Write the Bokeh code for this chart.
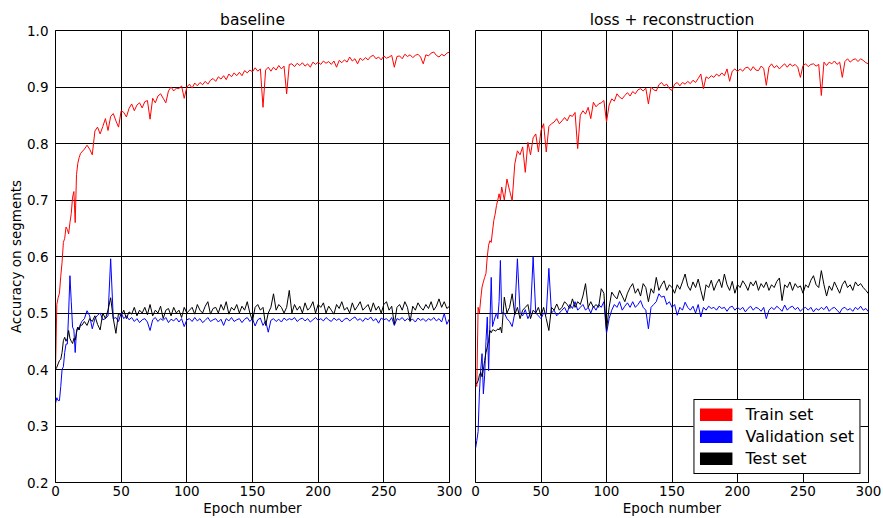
from bokeh.plotting import figure
from bokeh.layouts import row
from bokeh.models import (FixedTicker, NumeralTickFormatter, Legend, LegendItem,
                          Range1d)
from bokeh.embed import file_html
from bokeh.resources import INLINE

# ---------------- data ----------------
epochs = list(range(0, 21)) + list(range(22, 301, 2))

x_ticks = [0, 50, 100, 150, 200, 250, 300]
y_ticks = [0.2, 0.3, 0.4, 0.5, 0.6, 0.7, 0.8, 0.9, 1.0]
panel_titles = ["baseline", "loss + reconstruction"]
series_names = ["Train set", "Validation set", "Test set"]

baseline_train = [
    0.400, 0.515, 0.527, 0.535, 0.565, 0.590, 0.625, 0.632, 0.652, 0.648, 0.640,
    0.660, 0.676, 0.705, 0.715, 0.660, 0.745, 0.765, 0.775, 0.782, 0.785,
    0.790, 0.797, 0.790, 0.780, 0.822, 0.829, 0.817, 0.830, 0.844, 0.823,
    0.848, 0.853, 0.840, 0.829, 0.858, 0.855, 0.847, 0.862, 0.870, 0.858,
    0.868, 0.872, 0.863, 0.874, 0.876, 0.843, 0.880, 0.872, 0.884, 0.888,
    0.880, 0.872, 0.893, 0.900, 0.893, 0.898, 0.897, 0.902, 0.880, 0.900,
    0.905, 0.898, 0.907, 0.902, 0.908, 0.904, 0.910, 0.905, 0.912, 0.915,
    0.910, 0.918, 0.914, 0.920, 0.913, 0.923, 0.918, 0.925, 0.920, 0.926,
    0.920, 0.929, 0.925, 0.930, 0.927, 0.934, 0.928, 0.932, 0.864, 0.930,
    0.935, 0.928, 0.935, 0.930, 0.938, 0.932, 0.937, 0.888, 0.940, 0.941,
    0.936, 0.942, 0.938, 0.943, 0.937, 0.941, 0.935, 0.944, 0.940, 0.944,
    0.940, 0.946, 0.942, 0.945, 0.940, 0.946, 0.935, 0.947, 0.943, 0.948,
    0.944, 0.953, 0.946, 0.950, 0.941, 0.951, 0.947, 0.952, 0.948, 0.954,
    0.956, 0.950, 0.953, 0.948, 0.955, 0.951, 0.953, 0.956, 0.935, 0.954,
    0.955, 0.950, 0.958, 0.954, 0.957, 0.952, 0.956, 0.958, 0.953, 0.941,
    0.957, 0.955, 0.960, 0.962, 0.956, 0.953, 0.958, 0.955, 0.960, 0.962,
]

baseline_val = [
    0.340, 0.350, 0.345, 0.345, 0.370, 0.400, 0.405, 0.430, 0.445, 0.445, 0.500,
    0.566, 0.520, 0.475, 0.470, 0.430, 0.469, 0.475, 0.470, 0.480, 0.485,
    0.490, 0.504, 0.495, 0.472, 0.490, 0.496, 0.500, 0.488, 0.490, 0.495,
    0.596, 0.490, 0.492, 0.485, 0.500, 0.490, 0.495, 0.488, 0.492, 0.485,
    0.490, 0.483, 0.488, 0.490, 0.484, 0.469, 0.488, 0.492, 0.485, 0.490,
    0.487, 0.492, 0.483, 0.489, 0.486, 0.491, 0.484, 0.490, 0.476, 0.488,
    0.490, 0.485, 0.492, 0.486, 0.490, 0.483, 0.487, 0.492, 0.485, 0.488,
    0.490, 0.484, 0.489, 0.478, 0.490, 0.486, 0.492, 0.485, 0.488, 0.490,
    0.483, 0.489, 0.492, 0.485, 0.490, 0.477, 0.488, 0.491, 0.478, 0.486,
    0.466, 0.487, 0.490, 0.485, 0.489, 0.484, 0.491, 0.487, 0.490, 0.488,
    0.492, 0.485, 0.489, 0.491, 0.486, 0.490, 0.484, 0.488, 0.492, 0.487,
    0.490, 0.486, 0.492, 0.488, 0.485, 0.491, 0.487, 0.490, 0.484, 0.489,
    0.491, 0.486, 0.490, 0.493, 0.487, 0.490, 0.485, 0.491, 0.488, 0.493,
    0.486, 0.490, 0.482, 0.491, 0.488, 0.490, 0.485, 0.492, 0.478, 0.490,
    0.488, 0.492, 0.486, 0.490, 0.487, 0.489, 0.484, 0.491, 0.487, 0.490,
    0.485, 0.490, 0.487, 0.492, 0.486, 0.490, 0.484, 0.499, 0.480, 0.490,
]

baseline_test = [
    0.400, 0.404, 0.410, 0.416, 0.418, 0.430, 0.451, 0.457, 0.450, 0.455, 0.469,
    0.455, 0.450, 0.446, 0.455, 0.452, 0.465, 0.475, 0.470, 0.480, 0.478,
    0.485, 0.478, 0.490, 0.485, 0.495, 0.480, 0.470, 0.500, 0.490, 0.505,
    0.527, 0.490, 0.464, 0.500, 0.495, 0.505, 0.490, 0.502, 0.498, 0.510,
    0.495, 0.505, 0.500, 0.510, 0.497, 0.515, 0.495, 0.505, 0.500, 0.512,
    0.490, 0.505, 0.508, 0.495, 0.510, 0.500, 0.505, 0.492, 0.510, 0.500,
    0.505, 0.510, 0.498, 0.515, 0.505, 0.500, 0.512, 0.520, 0.498, 0.508,
    0.510, 0.500, 0.515, 0.505, 0.520, 0.498, 0.510, 0.505, 0.515, 0.500,
    0.512, 0.505, 0.520, 0.500, 0.486, 0.510, 0.515, 0.505, 0.510, 0.478,
    0.500, 0.510, 0.534, 0.505, 0.515, 0.510, 0.500, 0.510, 0.540, 0.500,
    0.515, 0.505, 0.512, 0.500, 0.518, 0.505, 0.510, 0.520, 0.500, 0.515,
    0.510, 0.518, 0.500, 0.512, 0.505, 0.498, 0.515, 0.508, 0.520, 0.505,
    0.510, 0.500, 0.518, 0.505, 0.512, 0.520, 0.505, 0.510, 0.515, 0.502,
    0.518, 0.505, 0.512, 0.500, 0.515, 0.520, 0.505, 0.512, 0.480, 0.510,
    0.515, 0.505, 0.520, 0.510, 0.485, 0.512, 0.505, 0.518, 0.510, 0.505,
    0.515, 0.508, 0.520, 0.505, 0.512, 0.525, 0.510, 0.520, 0.508, 0.512,
]

recon_train = [
    0.375, 0.370, 0.510, 0.500, 0.525, 0.546, 0.555, 0.563, 0.570, 0.600, 0.620,
    0.628, 0.625, 0.645, 0.664, 0.675, 0.690, 0.700, 0.711, 0.700, 0.723,
    0.700, 0.737, 0.717, 0.699, 0.764, 0.787, 0.780, 0.794, 0.749, 0.802,
    0.780, 0.810, 0.817, 0.785, 0.823, 0.835, 0.785, 0.830, 0.835, 0.838,
    0.844, 0.835, 0.840, 0.846, 0.840, 0.850, 0.848, 0.855, 0.791, 0.850,
    0.858, 0.852, 0.864, 0.844, 0.873, 0.865, 0.870, 0.872, 0.876, 0.838,
    0.868, 0.879, 0.875, 0.888, 0.882, 0.879, 0.885, 0.890, 0.884, 0.892,
    0.888, 0.895, 0.897, 0.893, 0.898, 0.870, 0.900, 0.895, 0.893, 0.904,
    0.908, 0.902, 0.905, 0.897, 0.894, 0.905, 0.908, 0.902, 0.908, 0.905,
    0.910, 0.906, 0.912, 0.908, 0.915, 0.923, 0.897, 0.918, 0.915, 0.920,
    0.917, 0.923, 0.919, 0.925, 0.920, 0.932, 0.910, 0.928, 0.932, 0.927,
    0.932, 0.928, 0.934, 0.935, 0.929, 0.936, 0.930, 0.929, 0.937, 0.933,
    0.903, 0.935, 0.941, 0.934, 0.938, 0.932, 0.937, 0.941, 0.935, 0.941,
    0.937, 0.940, 0.935, 0.917, 0.938, 0.941, 0.936, 0.940, 0.941, 0.937,
    0.940, 0.885, 0.944, 0.938, 0.944, 0.941, 0.946, 0.940, 0.944, 0.917,
    0.945, 0.950, 0.944, 0.948, 0.950, 0.945, 0.950, 0.947, 0.943, 0.941,
]

recon_val = [
    0.260, 0.274, 0.290, 0.360, 0.400, 0.428, 0.357, 0.390, 0.450, 0.493, 0.398,
    0.480, 0.563, 0.476, 0.485, 0.493, 0.500, 0.490, 0.520, 0.593, 0.500,
    0.500, 0.490, 0.485, 0.476, 0.500, 0.596, 0.500, 0.495, 0.506, 0.490,
    0.500, 0.599, 0.500, 0.495, 0.490, 0.500, 0.498, 0.579, 0.500, 0.505,
    0.495, 0.500, 0.505, 0.510, 0.500, 0.515, 0.508, 0.520, 0.505, 0.510,
    0.515, 0.505, 0.510, 0.500, 0.512, 0.505, 0.515, 0.510, 0.520, 0.464,
    0.490, 0.505, 0.515, 0.510, 0.520, 0.505, 0.512, 0.518, 0.510, 0.520,
    0.510, 0.515, 0.522, 0.510, 0.505, 0.472, 0.510, 0.515, 0.520, 0.534,
    0.528, 0.530, 0.515, 0.520, 0.510, 0.515, 0.496, 0.510, 0.505, 0.519,
    0.510, 0.505, 0.512, 0.500, 0.515, 0.493, 0.510, 0.505, 0.512, 0.508,
    0.510, 0.505, 0.512, 0.508, 0.510, 0.503, 0.510, 0.512, 0.505, 0.510,
    0.506, 0.510, 0.502, 0.508, 0.512, 0.505, 0.510, 0.508, 0.503, 0.510,
    0.490, 0.505, 0.510, 0.506, 0.512, 0.508, 0.503, 0.514, 0.505, 0.510,
    0.512, 0.506, 0.510, 0.503, 0.508, 0.510, 0.505, 0.510, 0.502, 0.508,
    0.505, 0.510, 0.506, 0.512, 0.503, 0.508, 0.510, 0.505, 0.500, 0.508,
    0.510, 0.505, 0.508, 0.503, 0.510, 0.506, 0.512, 0.505, 0.508, 0.502,
]

recon_test = [
    0.375, 0.375, 0.380, 0.390, 0.395, 0.387, 0.400, 0.416, 0.430, 0.440, 0.451,
    0.469, 0.465, 0.470, 0.470, 0.468, 0.469, 0.472, 0.470, 0.475, 0.465,
    0.528, 0.500, 0.510, 0.534, 0.497, 0.510, 0.490, 0.505, 0.510, 0.515,
    0.490, 0.505, 0.500, 0.510, 0.495, 0.510, 0.490, 0.469, 0.510, 0.505,
    0.516, 0.505, 0.510, 0.520, 0.515, 0.508, 0.525, 0.510, 0.520, 0.515,
    0.530, 0.552, 0.510, 0.520, 0.510, 0.515, 0.510, 0.543, 0.535, 0.469,
    0.510, 0.537, 0.530, 0.525, 0.540, 0.530, 0.520, 0.535, 0.545, 0.552,
    0.535, 0.543, 0.530, 0.552, 0.545, 0.520, 0.543, 0.535, 0.563, 0.540,
    0.550, 0.557, 0.540, 0.550, 0.545, 0.535, 0.550, 0.542, 0.555, 0.569,
    0.548, 0.540, 0.555, 0.545, 0.560, 0.540, 0.522, 0.550, 0.545, 0.558,
    0.540, 0.552, 0.560, 0.545, 0.569, 0.550, 0.540, 0.556, 0.535, 0.550,
    0.545, 0.557, 0.550, 0.540, 0.555, 0.548, 0.557, 0.540, 0.552, 0.545,
    0.555, 0.540, 0.550, 0.545, 0.556, 0.562, 0.522, 0.550, 0.545, 0.555,
    0.540, 0.552, 0.545, 0.548, 0.535, 0.550, 0.545, 0.558, 0.566, 0.550,
    0.545, 0.575, 0.550, 0.530, 0.548, 0.540, 0.555, 0.545, 0.535, 0.550,
    0.557, 0.545, 0.550, 0.540, 0.555, 0.548, 0.552, 0.545, 0.540, 0.534,
]

colors = ["red", "blue", "black"]
FONT = "DejaVu Sans"
FIG_H = 518


def make_panel(title, train, val, test, width, b_left, b_right, show_y):
    n = min(len(epochs), len(train), len(val), len(test))
    p = figure(width=width, height=FIG_H, title=title,
               x_range=Range1d(0, 300), y_range=Range1d(0.2, 1.0),
               output_backend="svg", toolbar_location=None,
               min_border_left=b_left, min_border_right=b_right,
               min_border_top=30, min_border_bottom=36)
    p.background_fill_color = "white"
    p.border_fill_color = "white"
    p.outline_line_color = "black"
    p.outline_line_alpha = 1
    p.outline_line_width = 1

    p.title.align = "center"
    p.title.text_font = FONT
    p.title.text_font_size = "15.5px"
    p.title.text_font_style = "normal"
    p.title.text_color = "black"
    p.title.standoff = 3

    xt = FixedTicker(ticks=x_ticks)
    yt = FixedTicker(ticks=y_ticks)
    p.xaxis.ticker = xt
    p.yaxis.ticker = yt
    p.xgrid.ticker = xt
    p.ygrid.ticker = yt
    for g in (p.xgrid, p.ygrid):
        g.grid_line_color = "black"
        g.grid_line_alpha = 1
        g.grid_line_width = 1

    for ax in (p.xaxis, p.yaxis):
        ax.axis_line_color = "black"
        ax.major_tick_line_color = None
        ax.minor_tick_line_color = None
        ax.major_tick_out = 0
        ax.major_tick_in = 0
        ax.minor_tick_out = 0
        ax.minor_tick_in = 0
        ax.major_label_text_font = FONT
        ax.major_label_text_font_size = "13.5px"
        ax.major_label_text_color = "black"
        ax.axis_label_text_font = FONT
        ax.axis_label_text_font_size = "13.5px"
        ax.axis_label_text_font_style = "normal"
        ax.axis_label_text_color = "black"
    p.xaxis.major_label_standoff = 3
    p.yaxis.major_label_standoff = 7
    p.yaxis.formatter = NumeralTickFormatter(format="0.0")

    p.xaxis.axis_label = "Epoch number"
    p.xaxis.axis_label_standoff = 1

    if show_y:
        p.yaxis.axis_label = "Accuracy on segments"
        p.yaxis.axis_label_standoff = 0
    else:
        p.yaxis.visible = False

    for ys, c in zip((train, val, test), colors):
        p.line(epochs[:n], ys[:n], line_color=c, line_width=1)
    return p


p1 = make_panel(panel_titles[0], baseline_train, baseline_val, baseline_test,
                462, 55, 13, True)
p2 = make_panel(panel_titles[1], recon_train, recon_val, recon_test,
                421, 13, 15, False)

# legend swatches: hidden thick copies of the series lines
swatches = []
for ys, c in zip((recon_train, recon_val, recon_test), colors):
    r = p2.line(epochs, ys, line_color=c, line_width=13, line_cap="butt")
    r.visible = False
    swatches.append(r)
legend = Legend(items=[LegendItem(label=nm, renderers=[r])
                       for nm, r in zip(series_names, swatches)],
                location="bottom_right")
legend.click_policy = "none"
legend.inactive_fill_alpha = 0
legend.border_line_color = "black"
legend.border_line_width = 1
legend.border_line_alpha = 1
legend.background_fill_alpha = 1
legend.label_text_font = FONT
legend.label_text_font_size = "16px"
legend.label_text_color = "black"
legend.glyph_width = 33
legend.glyph_height = 13
legend.label_standoff = 13
legend.label_height = 18
legend.spacing = 3
legend.padding = 5
legend.margin = 8
p2.add_layout(legend)

layout = row(p1, p2)
open("out.html", "w").write(file_html(layout, INLINE))
